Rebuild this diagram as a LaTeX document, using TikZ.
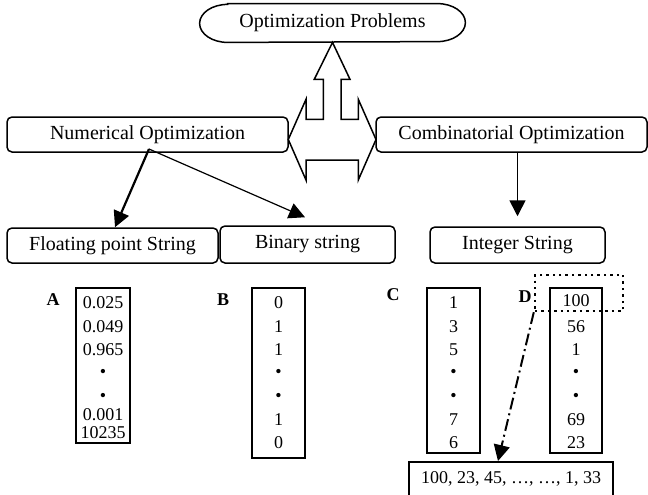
\documentclass[tikz,border=0pt]{standalone}
\usepackage{fontspec}
\setmainfont{Liberation Serif}
\usetikzlibrary{arrows.meta,calc}
\begin{document}
\begin{tikzpicture}[x=0.5pt,y=-0.5pt,
  box/.style={draw,line width=0.75pt,rounded corners=2.5pt,inner sep=0pt,font=\fontsize{10}{12}\selectfont},
  col/.style={draw,line width=1pt,inner sep=0pt},
  entry/.style={inner sep=0pt,font=\fontsize{9}{11}\selectfont},
  lab/.style={inner sep=0pt,font=\fontsize{9}{11}\selectfont\bfseries},
  tip/.style={-{Triangle[length=8pt,width=8pt]}}]
\useasboundingbox (0,0) rectangle (648,494);

% top ellipse
\node[inner sep=0pt,minimum width=132.5pt,minimum height=19pt,font=\fontsize{10}{12}\selectfont] (op) at (332.5,23) {Optimization Problems};
\draw[line width=0.75pt] ([xshift=14pt]op.north west) -- ([xshift=-14pt]op.north east)
  arc[start angle=90,end angle=-90,x radius=14pt,y radius=9.5pt]
  -- ([xshift=14pt]op.south west)
  arc[start angle=270,end angle=90,x radius=14pt,y radius=9.5pt] -- cycle;

% combined arrow shape
\draw[line width=0.75pt,line join=miter] (op.south) -- (350,79.3) -- (341,79.3) -- (341,119.3) -- (358.3,119.3) -- (358.3,99.3)
  -- (376,139.5) -- (358.3,180) -- (358.3,160) -- (306,160) -- (306,180) -- (288.3,139.5) -- (306,99.3)
  -- (306,119.3) -- (323.3,119.3) -- (323.3,79.3) -- (314.3,79.3) -- cycle;

% level 2
\node[box,minimum width=140.5pt,minimum height=17.5pt] (num) at (147.5,134.5) {Numerical Optimization};
\node[box,minimum width=135.5pt,minimum height=17.5pt] (comb) at (511.5,134.5) {Combinatorial Optimization};

% level 3
\node[box,minimum width=105.5pt,minimum height=17.5pt] (flt) at (112.5,245.5) {Floating point String};
\node[box,minimum width=87.5pt,minimum height=18.5pt] (bin) at (307.5,244.5) {Binary string};
\node[box,minimum width=87.5pt,minimum height=18pt] (int) at (517.5,245) {Integer String};

% connectors
\coordinate (ns) at (149,149);
\draw[tip,line width=1.1pt] (ns) -- ([xshift=1.25pt]flt.north);
\draw[tip,line width=0.6pt] (ns) -- ([shift={(-1.25pt,4pt)}]bin.north);
\draw[tip,line width=0.8pt] (int.north |- comb.south) -- ([yshift=5pt]int.north);

% labels
\node[lab] (la) at (53,300) {A};
\node[lab] (lb) at (223,300) {B};
\node[lab] (lc) at (393,295) {C};
\node[lab] (ld) at (525,297) {D};

% column boxes
\node[col,minimum width=27pt,minimum height=77.5pt] (ca) at (103,365.5) {};
\node[col,minimum width=26.5pt,minimum height=85pt] (cb) at (278.5,373) {};
\node[col,minimum width=26.5pt,minimum height=82.5pt] (cc) at (453.5,370.5) {};
\node[col,minimum width=26pt,minimum height=82.5pt] (cd) at (576,370.5) {};

% column A
\node[entry] (a1) at (103,303) {0.025};
\node[entry] (a2) at (103,327) {0.049};
\node[entry] (a3) at (103,350) {0.965};
\node[entry] (a4) at (103,373) {\textbullet};
\node[entry] (a5) at (103,397) {\textbullet};
\node[entry] (a6) at (103,415) {0.001};
\node[entry] (a7) at (103,433) {10235};

% column B
\node[entry] (b1) at (278.5,303) {0};
\node[entry] (b2) at (278.5,327) {1};
\node[entry] (b3) at (278.5,350) {1};
\node[entry] (b4) at (278.5,373) {\textbullet};
\node[entry] (b5) at (278.5,397) {\textbullet};
\node[entry] (b6) at (278.5,420) {1};
\node[entry] (b7) at (278.5,443) {0};

% column C
\node[entry] (c1) at (453.5,303) {1};
\node[entry] (c2) at (453.5,327) {3};
\node[entry] (c3) at (453.5,350) {5};
\node[entry] (c4) at (453.5,373) {\textbullet};
\node[entry] (c5) at (453.5,397) {\textbullet};
\node[entry] (c6) at (453.5,420) {7};
\node[entry] (c7) at (453.5,443) {6};

% column D
\node[entry] (d1) at (576,301) {100};
\node[entry] (d2) at (576,327) {56};
\node[entry] (d3) at (576,350) {1};
\node[entry] (d4) at (576,373) {\textbullet};
\node[entry] (d5) at (576,397) {\textbullet};
\node[entry] (d6) at (576,420) {69};
\node[entry] (d7) at (576,443) {23};

% dotted selection
\node[draw,dotted,line width=1.2pt,minimum width=44pt,minimum height=18pt,inner sep=0pt] (sel) at (579,293) {};

% bottom box
\node[draw,line width=1pt,minimum width=102pt,minimum height=17pt,inner sep=0pt,font=\fontsize{9}{11}\selectfont] (bot) at (511,479) {100, 23, 45, …, …, 1, 33};

\draw[tip,line width=1pt,dash pattern=on 6pt off 2pt on 1pt off 2pt] (sel.south west) -- ([xshift=-6.5pt]bot.north);
\end{tikzpicture}
\end{document}
